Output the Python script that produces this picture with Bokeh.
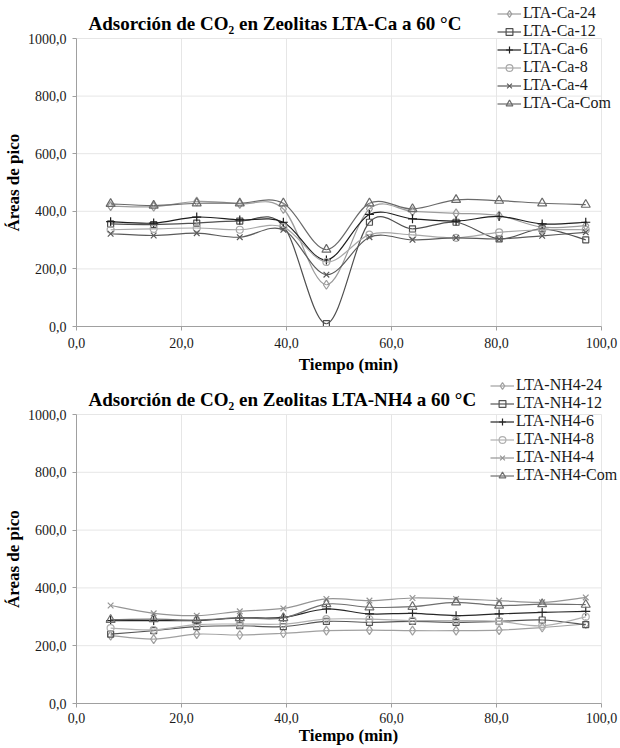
from bokeh.plotting import figure
from bokeh.layouts import column
from bokeh.models import (ColumnDataSource, Legend, LegendItem, CustomJSTickFormatter,
                          FixedTicker, Range1d, Label)
from bokeh.embed import file_html
from bokeh.resources import INLINE

# ---------------- data ----------------
tiempo = [6.5, 14.7, 22.9, 31.1, 39.4, 47.6, 55.8, 64.0, 72.3, 80.5, 88.7, 97.0]

ca_labels = ["LTA-Ca-24", "LTA-Ca-12", "LTA-Ca-6", "LTA-Ca-8", "LTA-Ca-4", "LTA-Ca-Com"]
ca_24 = [418, 416, 434, 426, 408, 145, 408, 400, 393, 385, 345, 350]
ca_12 = [356, 354, 359, 366, 350, 10, 362, 339, 362, 304, 339, 301]
ca_6 = [364, 359, 380, 370, 362, 231, 389, 374, 366, 382, 356, 362]
ca_8 = [336, 339, 342, 336, 345, 224, 319, 318, 308, 327, 336, 336]
ca_4 = [322, 316, 324, 310, 336, 180, 310, 301, 308, 304, 315, 327]
ca_com = [426, 420, 428, 428, 428, 267, 428, 408, 440, 437, 428, 423]

nh4_labels = ["LTA-NH4-24", "LTA-NH4-12", "LTA-NH4-6", "LTA-NH4-8", "LTA-NH4-4", "LTA-NH4-Com"]
nh4_24 = [235, 223, 240, 237, 243, 252, 254, 252, 252, 254, 263, 275]
nh4_12 = [240, 252, 266, 269, 266, 284, 281, 284, 281, 284, 289, 273]
nh4_6 = [287, 287, 287, 296, 298, 327, 310, 312, 304, 310, 315, 319]
nh4_8 = [261, 255, 273, 275, 275, 292, 292, 287, 287, 284, 269, 300]
nh4_4 = [339, 312, 304, 319, 329, 362, 356, 365, 362, 356, 350, 367]
nh4_com = [290, 292, 289, 296, 296, 344, 333, 335, 350, 339, 344, 342]

x_ticks = [0, 20, 40, 60, 80, 100]
y_ticks = [0, 200, 400, 600, 800, 1000]
x_max = 100
y_max = 1000

markers = ["diamond", "square", "cross", "circle", "x", "triangle"]
marker_sizes = [9, 6, 9, 7, 8, 9]
ca_colors = ["#9c9c9c", "#505050", "#1e1e1e", "#a8a8a8", "#5a5a5a", "#6a6a6a"]
nh4_colors = ["#a0a0a0", "#555555", "#262626", "#b0b0b0", "#959595", "#6e6e6e"]

FONT = "Liberation Serif"


def bezier_source(xs, ys):
    n = len(xs)
    d = dict(x0=[], y0=[], x1=[], y1=[], cx0=[], cy0=[], cx1=[], cy1=[])
    for i in range(n - 1):
        a = i - 1 if i > 0 else i
        b = i + 2 if i + 2 < n else i + 1
        d["x0"].append(xs[i]); d["y0"].append(ys[i])
        d["x1"].append(xs[i + 1]); d["y1"].append(ys[i + 1])
        d["cx0"].append(xs[i] + (xs[i + 1] - xs[a]) / 6.0)
        d["cy0"].append(ys[i] + (ys[i + 1] - ys[a]) / 6.0)
        d["cx1"].append(xs[i + 1] - (xs[b] - xs[i]) / 6.0)
        d["cy1"].append(ys[i + 1] - (ys[b] - ys[i]) / 6.0)
    return ColumnDataSource(d)


def make_fig(title, labels, series, colors, frame_h, px_per_1000, bottom_border,
             legend_x, legend_top, tick_standoff, label_standoff):
    # frame spans from the figure top to the x axis; data area (0..1000) sits in its lower part
    y_top = y_max * frame_h / px_per_1000
    x_right = x_max * 544.0 / 525.0
    p = figure(title=None, frame_width=544, frame_height=frame_h,
               x_range=Range1d(0, x_right), y_range=Range1d(0, y_top),
               output_backend="svg", toolbar_location=None,
               min_border_left=76, min_border_right=0,
               min_border_top=0, min_border_bottom=bottom_border)
    p.outline_line_color = None
    p.background_fill_color = "white"
    p.border_fill_color = "white"
    p.grid.visible = False

    # grid lines at the tick values, limited to the data area
    p.segment(x0=x_ticks[1:], y0=[0] * (len(x_ticks) - 1), x1=x_ticks[1:],
              y1=[y_max] * (len(x_ticks) - 1), line_color="#e6e6e6", line_width=1)
    p.segment(x0=[0] * (len(y_ticks) - 1), y0=y_ticks[1:], x1=[x_max] * (len(y_ticks) - 1),
              y1=y_ticks[1:], line_color="#e6e6e6", line_width=1)

    fmt = CustomJSTickFormatter(code="return tick.toFixed(1).replace('.', ',');")
    for ax, ticks, bnd in ((p.xaxis[0], x_ticks, (0, x_max)), (p.yaxis[0], y_ticks, (0, y_max))):
        ax.ticker = FixedTicker(ticks=ticks)
        ax.bounds = bnd
        ax.formatter = fmt
        ax.minor_tick_line_color = None
        ax.major_tick_in = 0
        ax.major_tick_out = 4
        ax.axis_line_color = "#a0a0a0"
        ax.major_tick_line_color = "#a0a0a0"
        ax.major_label_text_font = FONT
        ax.major_label_text_font_size = "14px"
        ax.major_label_text_color = "#1a1a1a"
        ax.axis_label_text_font = FONT
        ax.axis_label_text_font_size = "17px"
        ax.axis_label_text_font_style = "bold"
        ax.axis_label_text_color = "#000000"
    p.xaxis.axis_label = "Tiempo (min)"
    # trailing no-break spaces keep the label centred on the 0..1000 data area
    p.yaxis.axis_label = "Áreas de pico" + "\u00a0" * 9
    p.xaxis.major_label_standoff = tick_standoff
    p.xaxis.axis_label_standoff = label_standoff
    p.yaxis.major_label_standoff = 6
    p.yaxis.axis_label_standoff = 2

    items = []
    for lab, ys, col, mk, ms in zip(labels, series, colors, markers, marker_sizes):
        src = bezier_source(tiempo, ys)
        r_line = p.bezier(x0="x0", y0="y0", x1="x1", y1="y1", cx0="cx0", cy0="cy0",
                          cx1="cx1", cy1="cy1", source=src, line_color=col, line_width=1.2)
        r_pts = p.scatter(tiempo, ys, marker=mk, size=ms, line_color=col,
                          fill_color=None, line_width=1.2)
        items.append(LegendItem(label=lab, renderers=[r_line, r_pts]))

    H = 18 * len(items)
    vy = frame_h - legend_top - H
    leg = Legend(items=items, location=(legend_x, vy), orientation="vertical",
                 label_text_font=FONT, label_text_font_size="16px",
                 label_text_color="#1a1a1a", label_height=18, glyph_height=17,
                 glyph_width=24, label_standoff=2, spacing=0, padding=0, margin=0,
                 background_fill_alpha=0, border_line_color=None)
    p.add_layout(leg, "center")

    p.add_layout(Label(x=12, y=frame_h - 23, x_units="screen", y_units="screen",
                       text=title, text_font=FONT, text_font_size="19px",
                       text_font_style="bold", text_color="#000000",
                       text_baseline="middle", text_align="left"))
    return p


p1 = make_fig("Adsorción de CO₂ en Zeolitas LTA-Ca a 60 °C", ca_labels,
              [ca_24, ca_12, ca_6, ca_8, ca_4, ca_com], ca_colors,
              326, 288.0, 48, 421, 4, 7, 4)
p2 = make_fig("Adsorción de CO₂ en Zeolitas LTA-NH4 a 60 °C", nh4_labels,
              [nh4_24, nh4_12, nh4_6, nh4_8, nh4_4, nh4_com], nh4_colors,
              327, 289.0, 46, 414, 0, 5, 0)

layout = column(p1, p2, spacing=0)
open("out.html", "w").write(file_html(layout, INLINE))
